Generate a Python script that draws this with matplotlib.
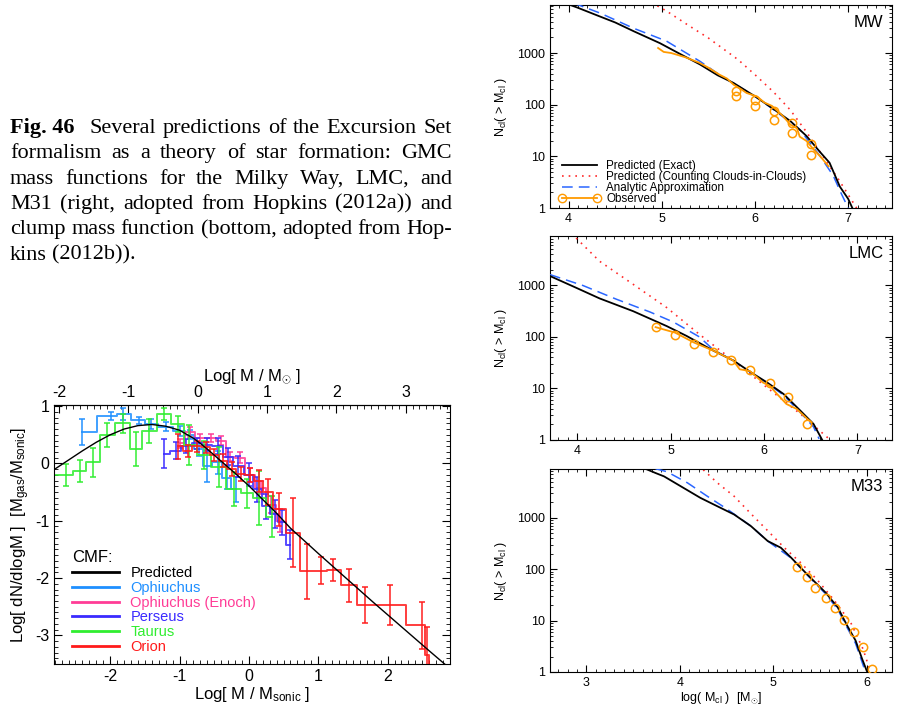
import numpy as np
import matplotlib
matplotlib.use("Agg")
import matplotlib.pyplot as plt
from matplotlib.ticker import MultipleLocator, LogLocator, NullFormatter, FixedLocator, FuncFormatter

plt.rcParams["font.family"] = ["Liberation Sans", "DejaVu Sans"]
plt.rcParams["mathtext.fontset"] = "custom"
plt.rcParams["mathtext.rm"] = "Liberation Sans"
plt.rcParams["mathtext.it"] = "Liberation Sans:italic"
plt.rcParams["axes.unicode_minus"] = False

# --------------------------------------------------
# Caption text
# --------------------------------------------------
caption_label = "Fig. 46"
caption_lines = [
    "Several predictions of the Excursion Set",
    "formalism as a theory of star formation: GMC",
    "mass functions for the Milky Way, LMC, and",
    "M31 (right, adopted from Hopkins (2012a)) and",
    "clump mass function (bottom, adopted from Hop-",
    "kins (2012b)).",
]

# --------------------------------------------------
# CMF panel (bottom left), log M/M_sonic vs log dN/dlogM
# --------------------------------------------------
pred_x = [-2.85, -2.6, -2.4, -2.2, -2.0, -1.8, -1.6, -1.4, -1.2, -1.0, -0.8, -0.7, -0.6,
          -0.4, -0.2, 0.0, 0.2, 0.4, 0.6, 0.8, 1.0, 1.4, 1.8, 2.2, 2.6, 2.9]
pred_y = [-0.14, 0.06, 0.22, 0.37, 0.50, 0.60, 0.66, 0.68, 0.65, 0.58, 0.44, 0.35, 0.25,
          0.04, -0.17, -0.39, -0.63, -0.87, -1.13, -1.35, -1.57, -2.00, -2.43, -2.85, -3.27, -3.58]

oph_x = [-2.40, -1.99, -1.81, -1.58, -1.41, -1.20, -1.00, -0.85, -0.72, -0.60, -0.45, -0.32, -0.19]
oph_y = [0.55, 0.82, 0.86, 0.75, 0.69, 0.64, 0.57, 0.50, 0.25, -0.05, 0.02, -0.25, -0.45]
oph_err = [0.22, 0.07, 0.11, 0.06, 0.09, 0.08, 0.09, 0.08, 0.12, 0.28, 0.20, 0.20, 0.22]

enoch_x = [-1.00, -0.85, -0.70, -0.55, -0.40, -0.27, -0.13, 0.02, 0.17, 0.32, 0.45]
enoch_y = [0.35, 0.55, 0.45, 0.45, 0.40, 0.12, 0.10, -0.20, -0.42, -0.72, -1.00]
enoch_err = [0.08, 0.08, 0.07, 0.07, 0.08, 0.08, 0.10, 0.12, 0.12, 0.15, 0.20]

pers_x = [-1.23, -1.05, -0.90, -0.75, -0.60, -0.45, -0.30, -0.15, 0.00, 0.12, 0.25, 0.37, 0.48, 0.60]
pers_y = [0.17, 0.22, 0.30, 0.35, 0.33, 0.30, 0.12, -0.05, -0.20, -0.45, -0.75, -0.88, -1.03, -1.42]
pers_err = [0.25, 0.15, 0.12, 0.10, 0.12, 0.14, 0.15, 0.18, 0.20, 0.22, 0.22, 0.25, 0.22, 0.25]

taurus_x = [-2.84, -2.64, -2.44, -2.25, -2.04, -1.81, -1.63, -1.44, -1.22, -1.02, -0.86,
            -0.65, -0.43, -0.22, -0.02, 0.14, 0.34]
taurus_y = [-0.20, -0.20, -0.13, 0.02, 0.50, 0.70, 0.25, 0.57, 0.86, 0.69, 0.32,
            0.15, -0.06, -0.45, -0.52, -0.60, -0.93]
taurus_err = [0.12, 0.19, 0.19, 0.25, 0.21, 0.17, 0.30, 0.21, 0.10, 0.14, 0.35,
              0.25, 0.35, 0.30, 0.25, 0.47, 0.36]

orion_x = [-1.02, -0.88, -0.75, -0.62, -0.50, -0.37, -0.25, -0.12, 0.02, 0.14, 0.28, 0.43,
           0.64, 0.84, 1.04, 1.21, 1.44, 1.68, 2.04, 2.49, 2.575, 2.62]
orion_y = [0.30, 0.22, 0.30, 0.28, 0.15, 0.05, -0.10, -0.18, -0.20, -0.30, -0.50, -0.80,
           -1.21, -1.885, -1.87, -1.86, -2.13, -2.47, -2.47, -2.82, -3.35, -3.90]
orion_err = [0.22, 0.10, 0.10, 0.10, 0.10, 0.12, 0.12, 0.12, 0.12, 0.19, 0.22, 0.29,
             0.60, 0.48, 0.23, 0.20, 0.28, 0.32, 0.35, 0.41, 0.50, 0.0]

MSONIC_OFFSET = 0.74  # log M/Msun = log M/Msonic + offset (top axis)

# --------------------------------------------------
# GMC mass functions (right column), N(>M) vs log M
# --------------------------------------------------
mw_exact_x = [3.98, 4.10, 4.30, 4.50, 4.70, 4.98, 5.20, 5.41, 5.60, 5.77, 6.00, 6.20,
              6.38, 6.55, 6.70, 6.80, 6.91, 7.00, 7.05]
mw_exact_n = [9000, 7500, 5400, 3900, 2630, 1550, 950, 600, 370, 263, 145, 82,
              48, 25, 12, 7.5, 2.6, 1.5, 0.95]
mw_ccic_x = [4.89, 5.05, 5.30, 5.50, 5.82, 6.02, 6.20, 6.376, 6.55, 6.73, 6.90, 7.09]
mw_ccic_n = [9500, 6500, 3300, 1950, 740, 352, 175, 80, 30, 10, 3.5, 1.0]
mw_approx_x = [4.05, 4.34, 4.70, 5.05, 5.41, 5.60, 5.80, 6.00, 6.20, 6.48, 6.70, 6.84, 6.92, 7.00]
mw_approx_n = [9300, 5900, 3000, 1700, 690, 400, 240, 145, 80, 33, 10, 4.2, 2.0, 1.0]
mw_obs_x = [4.96, 5.02, 5.10, 5.25, 5.40, 5.50, 5.62, 5.70, 5.77, 5.85, 5.91, 6.02, 6.10,
            6.18, 6.23, 6.30, 6.38, 6.45, 6.48, 6.55, 6.63, 6.70, 6.79]
mw_obs_n = [1250, 1050, 1000, 830, 650, 520, 380, 320, 244, 200, 168, 145, 110,
            95, 79, 60, 41, 35, 24, 20, 13.5, 10, 6.4]
mw_pts_x = [5.80, 5.80, 6.00, 6.00, 6.20, 6.20, 6.40, 6.40, 6.60, 6.60]
mw_pts_n = [181, 145, 121, 93, 77, 51, 45, 28, 17.6, 10.5]

lmc_exact_x = [3.71, 3.99, 4.24, 4.60, 4.96, 5.17, 5.46, 5.67, 5.89, 6.03, 6.21, 6.39, 6.53, 6.60, 6.63]
lmc_exact_n = [1520, 900, 560, 316, 162, 105, 54, 35, 19, 13.2, 7.8, 3.7, 2.05, 1.2, 0.95]
lmc_ccic_x = [3.99, 4.24, 4.60, 4.96, 5.31, 5.67, 6.03, 6.39, 6.71]
lmc_ccic_n = [8300, 2950, 1050, 370, 112, 35, 10.5, 3.2, 1.0]
lmc_approx_x = [3.71, 4.06, 4.42, 4.78, 5.03, 5.31, 5.46, 5.67, 5.89, 6.03, 6.21, 6.39, 6.53, 6.59]
lmc_approx_n = [1620, 1000, 540, 305, 195, 100, 56, 35, 18.5, 12.8, 7.4, 3.4, 1.8, 1.05]
lmc_obs_x = [4.84, 5.05, 5.25, 5.46, 5.67, 5.74, 5.85, 5.99, 6.06, 6.14, 6.24, 6.35, 6.46, 6.51]
lmc_obs_n = [155, 121, 78, 54, 35, 23.6, 21.7, 13, 11.3, 7.8, 5.0, 4.0, 2.6, 2.2]
lmc_pts_x = [4.84, 5.05, 5.25, 5.45, 5.65, 5.85, 6.06, 6.26, 6.46]
lmc_pts_n = [155, 107, 74, 51, 35, 22.5, 13, 6.7, 2.0]

m33_exact_x = [3.63, 3.74, 3.83, 4.01, 4.22, 4.40, 4.58, 4.76, 4.94, 5.08, 5.19, 5.36,
               5.56, 5.69, 5.79, 5.88, 5.95, 6.00]
m33_exact_n = [9000, 7430, 6400, 4100, 2440, 1680, 1160, 690, 353, 262, 168, 80,
               35, 18, 8, 4.1, 1.8, 1.05]
m33_ccic_x = [4.25, 4.40, 4.58, 4.76, 4.94, 5.11, 5.29, 5.47, 5.65, 5.83, 5.96, 6.04]
m33_ccic_n = [8600, 4800, 2630, 1200, 560, 270, 135, 62, 25, 9, 2.8, 1.0]
m33_approx_x = [3.74, 3.86, 4.08, 4.29, 4.50, 4.76, 4.94, 5.19, 5.36, 5.56, 5.69, 5.79, 5.88, 5.95, 5.99]
m33_approx_n = [9000, 7900, 4800, 2650, 1500, 690, 353, 165, 78, 33, 16.5, 7.3, 3.6, 1.55, 0.95]
m33_pts_x = [5.25, 5.357, 5.45, 5.56, 5.66, 5.757, 5.864, 5.964, 6.06]
m33_pts_n = [108, 69, 44, 28, 17.5, 10.3, 5.9, 3.05, 1.13]

# --------------------------------------------------
# Styles
# --------------------------------------------------
C_OPH = "#1e8fff"
C_ENOCH = "#ff3c96"
C_PERS = "#3a2aff"
C_TAURUS = "#30ee30"
C_ORION = "#ff1a1a"
C_OBS = "#ff9a00"
C_CCIC = "#ff2a2a"
C_APPROX = "#2a66ff"

W_PX, H_PX = 897, 710
fig = plt.figure(figsize=(W_PX / 100, H_PX / 100), dpi=100)


def px_axes(left, top, right, bottom):
    return fig.add_axes([left / W_PX, 1 - bottom / H_PX, (right - left) / W_PX, (bottom - top) / H_PX])


# --------------------------------------------------
# 1. Caption (justified by hand)
# --------------------------------------------------
renderer = fig.canvas.get_renderer()
CAP_LEFT, CAP_RIGHT = 10, 452
CAP_BASE0, CAP_STEP = 133, 25.3

for i, line in enumerate(caption_lines):
    tokens = [(w, False) for w in line.split(" ")]
    if i == 0:
        tokens = [(caption_label, True)] + tokens
    arts = [fig.text(0, 0, t, fontsize=16, family=["Liberation Serif", "DejaVu Serif"],
                     fontweight="bold" if b else "normal", va="baseline", ha="left")
            for t, b in tokens]
    widths = [a.get_window_extent(renderer).width for a in arts]
    extra = 8 if i == 0 else 0
    last = i == len(caption_lines) - 1
    if last:
        gap = 5.0
    else:
        gap = (CAP_RIGHT - CAP_LEFT - sum(widths) - extra) / (len(arts) - 1)
    x = CAP_LEFT
    y = CAP_BASE0 + i * CAP_STEP
    for k, (a, w) in enumerate(zip(arts, widths)):
        a.set_position((x / W_PX, 1 - y / H_PX))
        x += w + gap + (extra if k == 0 else 0)

# --------------------------------------------------
# 2. CMF panel
# --------------------------------------------------
ax = px_axes(54, 405, 450, 664)

series = [
    ("Ophiuchus", oph_x, oph_y, oph_err, C_OPH),
    ("Ophiuchus (Enoch)", enoch_x, enoch_y, enoch_err, C_ENOCH),
    ("Perseus", pers_x, pers_y, pers_err, C_PERS),
    ("Taurus", taurus_x, taurus_y, taurus_err, C_TAURUS),
    ("Orion", orion_x, orion_y, orion_err, C_ORION),
]
handles = []
(h_pred,) = ax.plot(pred_x, pred_y, color="black", lw=1.0, zorder=5, label="Predicted")
handles.append(h_pred)
for name, xs, ys, es, col in series:
    (h,) = ax.plot(xs, ys, drawstyle="steps-mid", color=col, lw=1.4, alpha=0.85, label=name)
    ax.errorbar(xs, ys, yerr=es, fmt="none", ecolor=col, elinewidth=1.2, capsize=2.2,
                capthick=1.2, alpha=0.9)
    handles.append(h)

ax.set_xlim(-2.81, 2.9)
ax.set_ylim(-3.5, 1.02)
ax.xaxis.set_major_locator(MultipleLocator(1))
ax.xaxis.set_minor_locator(MultipleLocator(0.1))
ax.yaxis.set_major_locator(MultipleLocator(1))
ax.yaxis.set_minor_locator(MultipleLocator(0.1))
ax.tick_params(which="both", direction="in", top=False, right=True, labelsize=11.5)
ax.tick_params(which="major", length=6, width=0.8)
ax.tick_params(which="minor", length=3, width=0.6)
ax.set_xlabel(r"Log[ M / M$_{\rm sonic}$ ]", fontsize=12, labelpad=1)
ax.set_ylabel(r"Log[ dN/dlogM ]  [M$_{\rm gas}$/M$_{\rm sonic}$]", fontsize=12, labelpad=2)

top = ax.secondary_xaxis("top", functions=(lambda v: v + MSONIC_OFFSET, lambda v: v - MSONIC_OFFSET))
top.xaxis.set_major_locator(FixedLocator([-2, -1, 0, 1, 2, 3]))
top.xaxis.set_minor_locator(MultipleLocator(0.1))
top.tick_params(which="both", direction="in", labelsize=11.5)
top.tick_params(which="major", length=6, width=0.8)
top.tick_params(which="minor", length=3, width=0.6)
top.set_xlabel(r"Log[ M / M$_{\odot}$ ]", fontsize=12, labelpad=3)

labels = ["Predicted"] + [s[0] for s in series]
leg = ax.legend(handles, labels, loc="lower left", bbox_to_anchor=(0.02, 0.0), frameon=False,
                fontsize=10.5, title="CMF:", title_fontsize=12, alignment="left",
                handlelength=3.2, handletextpad=0.8, labelspacing=0.05, borderaxespad=0.3,
                labelcolor=["black", C_OPH, C_ENOCH, C_PERS, C_TAURUS, C_ORION])
for h in leg.legend_handles:
    h.set_linewidth(2.0)
    h.set_alpha(1.0)

# --------------------------------------------------
# 3. GMC mass function panels
# --------------------------------------------------
panels = [
    ("MW", (5, 208), (3.80, 7.47), 8500,
     mw_exact_x, mw_exact_n, mw_ccic_x, mw_ccic_n, mw_approx_x, mw_approx_n,
     mw_obs_x, mw_obs_n, mw_pts_x, mw_pts_n),
    ("LMC", (236, 440), (3.71, 7.37), 9100,
     lmc_exact_x, lmc_exact_n, lmc_ccic_x, lmc_ccic_n, lmc_approx_x, lmc_approx_n,
     lmc_obs_x, lmc_obs_n, lmc_pts_x, lmc_pts_n),
    ("M33", (469, 672), (2.61, 6.27), 8900,
     m33_exact_x, m33_exact_n, m33_ccic_x, m33_ccic_n, m33_approx_x, m33_approx_n,
     None, None, m33_pts_x, m33_pts_n),
]

for (name, (t, b), xlim, ytop, ex, en, cx, cn, apx, apn, ox, on, px, pn) in panels:
    a = px_axes(550, t, 892, b)
    a.plot(ex, en, color="black", lw=1.3, label="Predicted (Exact)", zorder=4)
    a.plot(cx, cn, color=C_CCIC, lw=1.2, ls=(0, (1, 3)), label="Predicted (Counting Clouds-in-Clouds)")
    a.plot(apx, apn, color=C_APPROX, lw=1.1, ls=(0, (7, 4)), label="Analytic Approximation", zorder=3)
    if ox is not None:
        a.plot(ox, on, color=C_OBS, lw=1.3, zorder=5)
    a.plot(px, pn, ls="none", marker="o", ms=6, mfc="none", mec=C_OBS, mew=1.1, zorder=6)
    a.set_yscale("log")
    a.set_xlim(*xlim)
    a.set_ylim(1, ytop)
    a.xaxis.set_major_locator(MultipleLocator(1))
    a.xaxis.set_minor_locator(MultipleLocator(0.1))
    a.yaxis.set_major_locator(FixedLocator([1, 10, 100, 1000]))
    a.yaxis.set_major_formatter(FuncFormatter(lambda v, _: f"{v:g}"))
    a.yaxis.set_minor_locator(LogLocator(base=10, subs=np.arange(2, 10)))
    a.yaxis.set_minor_formatter(NullFormatter())
    a.tick_params(which="both", direction="in", top=True, right=True, labelsize=9)
    a.tick_params(which="major", length=5, width=0.8)
    a.tick_params(which="minor", length=2.5, width=0.6)
    a.set_ylabel(r"N$_{\rm cl}$( > M$_{\rm cl}$ )", fontsize=9, labelpad=6)
    a.text(0.975, 0.95, name, transform=a.transAxes, ha="right", va="top", fontsize=12)
    if name == "MW":
        obs_handle = plt.Line2D([], [], color=C_OBS, lw=1.3, marker="o", ms=6, mfc="none", mec=C_OBS)
        h3 = a.get_lines()[:3]
        a.legend(list(h3) + [obs_handle],
                 ["Predicted (Exact)", "Predicted (Counting Clouds-in-Clouds)",
                  "Analytic Approximation", "Observed"],
                 loc="lower left", bbox_to_anchor=(0.0, -0.025), frameon=False, fontsize=8.4,
                 handlelength=3.6, handletextpad=0.5, labelspacing=-0.1, numpoints=2,
                 borderaxespad=0.3)
    if name == "M33":
        a.set_xlabel(r"log( M$_{\rm cl}$ )  [M$_{\odot}$]", fontsize=9, labelpad=1)

fig.savefig("out.png", dpi=100)
